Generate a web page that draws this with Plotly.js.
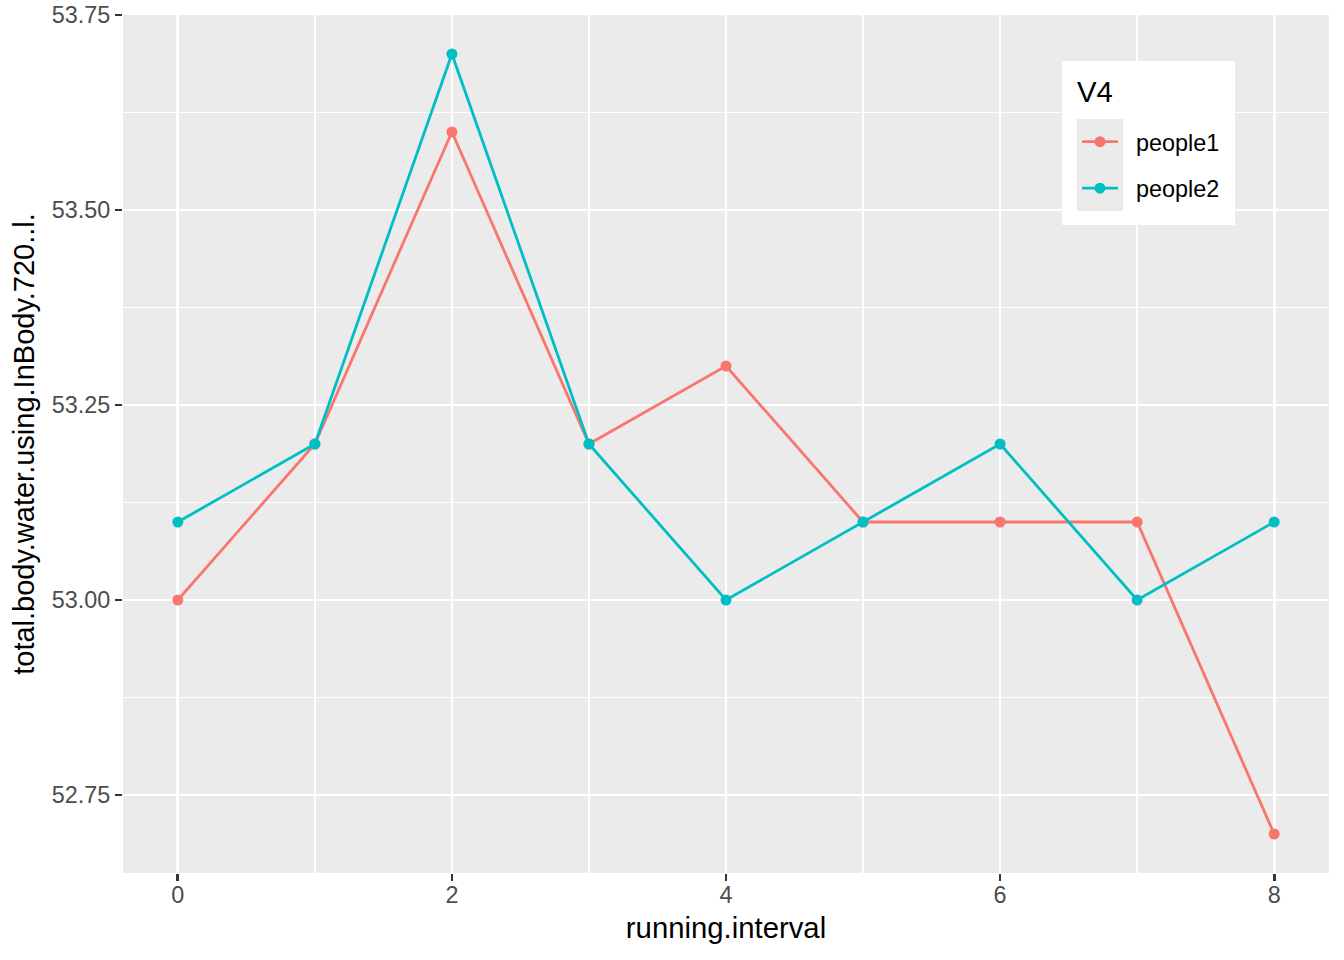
<!DOCTYPE html>
<html>
<head>
<meta charset="utf-8">
<script src="https://cdn.plot.ly/plotly-3.0.1.min.js"></script>
<style>html,body{margin:0;padding:0;background:#fff;}#chart{width:1344px;height:960px;}</style>
</head>
<body>
<div id="chart"></div>
<script>
const runningInterval = [0, 1, 2, 3, 4, 5, 6, 7, 8];
const people1 = [53.0, 53.2, 53.6, 53.2, 53.3, 53.1, 53.1, 53.1, 52.7];
const people2 = [53.1, 53.2, 53.7, 53.2, 53.0, 53.1, 53.2, 53.0, 53.1];
const seriesNames = ['people1', 'people2'];
const seriesColors = ['#F8766D', '#00BFC4'];
const legendTitle = 'V4';
const yTickVals = [52.75, 53.00, 53.25, 53.50, 53.75];
const yTickText = ['52.75', '53.00', '53.25', '53.50', '53.75'];
const xTickVals = [0, 2, 4, 6, 8];

const FONT = '"Liberation Sans", Arial, Helvetica, sans-serif';
const seriesData = [people1, people2];

const traces = seriesData.map((vals, i) => ({
  x: runningInterval,
  y: vals,
  type: 'scatter',
  mode: 'lines+markers',
  name: '\u00A0\u00A0' + seriesNames[i],
  legendgroup: seriesNames[i],
  line: {color: seriesColors[i], width: 2.8},
  marker: {color: seriesColors[i], size: 11}
}));

// plot area in pixels: left 123, right 1329, top 15, bottom 873
const L = 123, R = 1329, T = 15, B = 873;
const px = v => (v - L) / (R - L);
const py = v => (B - v) / (B - T);

const layout = {
  width: 1344, height: 960,
  margin: {l: L, r: 1344 - R, t: T, b: 960 - B},
  paper_bgcolor: '#FFFFFF',
  plot_bgcolor: '#EBEBEB',
  font: {family: FONT, color: '#000000'},
  showlegend: true,
  legend: {
    x: px(1077), y: py(120), xanchor: 'left', yanchor: 'top',
    bgcolor: 'rgba(0,0,0,0)', borderwidth: 0,
    font: {size: 23.4, family: FONT, color: '#000'},
    tracegroupgap: 13,
    itemwidth: 36
  },
  annotations: [
    {text: legendTitle, xref: 'paper', yref: 'paper', x: px(1075), y: py(91),
     xanchor: 'left', yanchor: 'middle', showarrow: false,
     font: {size: 29.3, family: FONT, color: '#000'}}
  ],
  xaxis: {
    range: [-0.4, 8.4],
    tickvals: xTickVals,
    ticktext: xTickVals.map(String),
    showgrid: true, gridcolor: '#FFFFFF', gridwidth: 2.8,
    minor: {dtick: 1, tick0: 0, showgrid: true, gridcolor: '#FFFFFF', gridwidth: 1.4, ticks: ''},
    zeroline: false, showline: false,
    ticks: 'outside', ticklen: 7, tickwidth: 2.8, tickcolor: '#333333',
    ticklabelstandoff: -6,
    tickfont: {size: 23.4, family: FONT, color: '#4D4D4D'},
    title: {text: 'running.interval', font: {size: 29.3, family: FONT, color: '#000'}, standoff: 10}
  },
  yaxis: {
    range: [52.65, 53.75],
    tickvals: yTickVals,
    ticktext: yTickText,
    showgrid: true, gridcolor: '#FFFFFF', gridwidth: 2.8,
    minor: {dtick: 0.125, tick0: 52.625, showgrid: true, gridcolor: '#FFFFFF', gridwidth: 1.4, ticks: ''},
    zeroline: false, showline: false,
    ticks: 'outside', ticklen: 7, tickwidth: 2.8, tickcolor: '#333333',
    tickfont: {size: 23.4, family: FONT, color: '#4D4D4D'},
    title: {text: 'total.body.water.using.InBody.720..l.', font: {size: 29, family: FONT, color: '#000'}, standoff: 8}
  },
  shapes: [
    {type: 'rect', xref: 'paper', yref: 'paper', layer: 'above',
     x0: px(1062), x1: px(1235), y0: py(225), y1: py(61),
     fillcolor: '#FFFFFF', line: {width: 0}},
    {type: 'rect', xref: 'paper', yref: 'paper', layer: 'above',
     x0: px(1077), x1: px(1123), y0: py(211), y1: py(119),
     fillcolor: '#EBEBEB', line: {width: 0}}
  ]
};

Plotly.newPlot('chart', traces, layout, {displayModeBar: false, staticPlot: true});
</script>
</body>
</html>
